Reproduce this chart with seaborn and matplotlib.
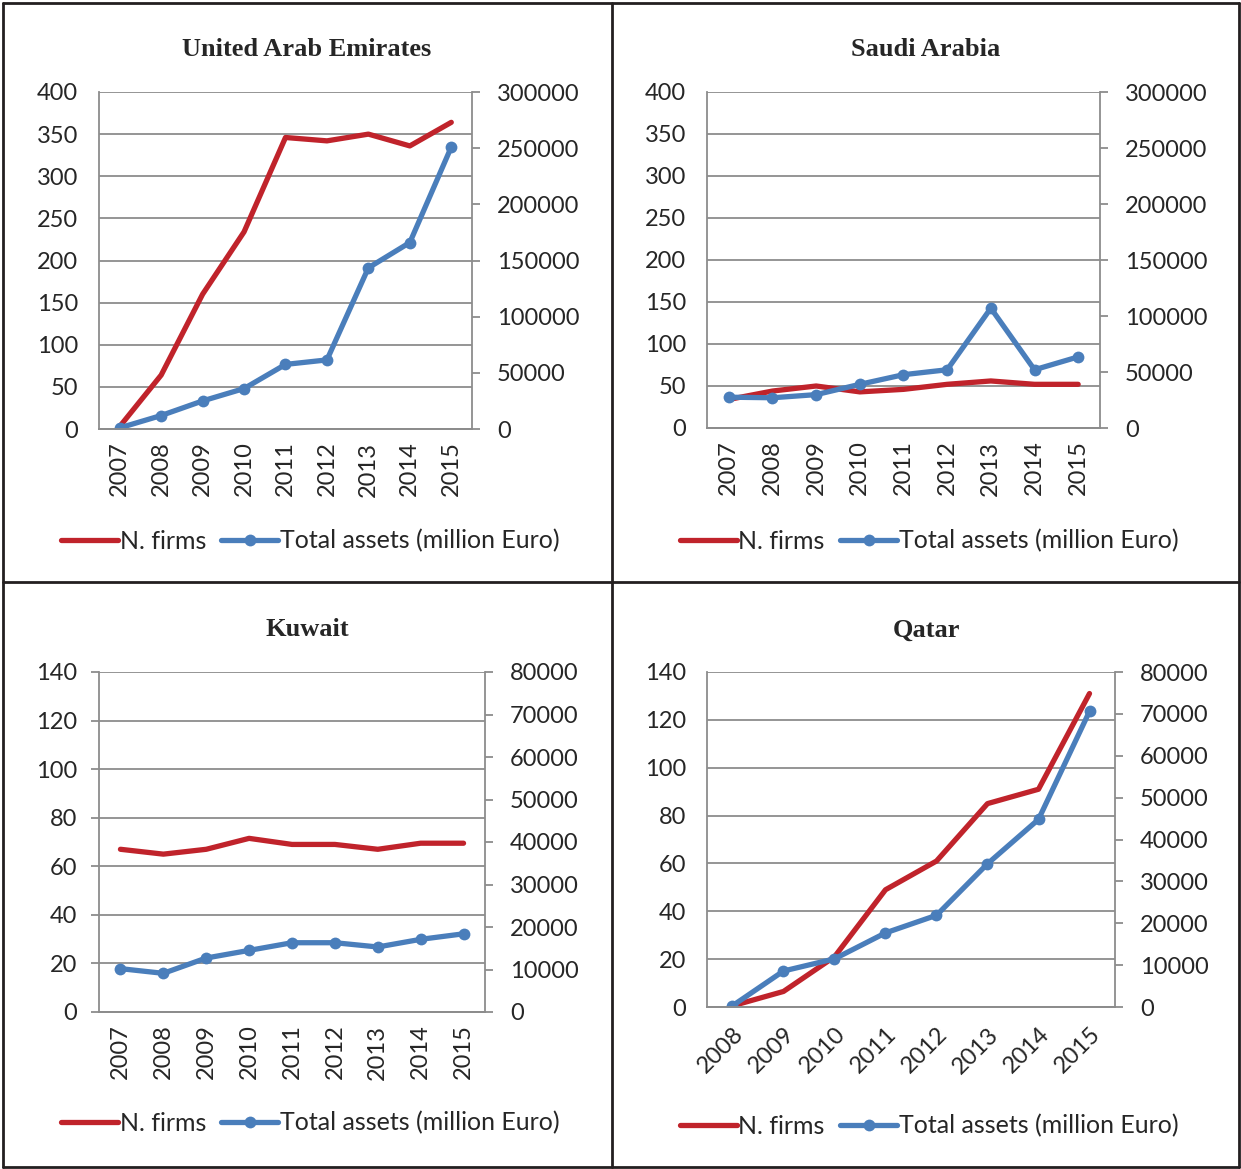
import numpy as np
import pandas as pd
import matplotlib.pyplot as plt
from matplotlib.lines import Line2D
import seaborn as sns

sns.set_style('white')
plt.rcParams['font.family'] = ['Lato', 'DejaVu Sans']

RED = '#C0232B'
BLUE = '#4A7EBB'
GRID = '#8C8C8C'
TXT = '#262626'

# data
years_a = ['2007', '2008', '2009', '2010', '2011', '2012', '2013', '2014', '2015']
years_q = ['2008', '2009', '2010', '2011', '2012', '2013', '2014', '2015']

uae_firms = [3, 64, 160, 234, 346, 342, 350, 336, 364]
uae_assets = [1000, 12000, 25000, 36000, 57500, 61500, 143500, 166000, 251000]

sau_firms = [34, 44, 50, 43, 46, 52, 56, 52, 52]
sau_assets = [27500, 27000, 29800, 39000, 47600, 52000, 107000, 52000, 63500]

kuw_firms = [67, 65, 67, 71.5, 69, 69, 67, 69.5, 69.5]
kuw_assets = [10200, 9100, 12700, 14500, 16300, 16300, 15300, 17100, 18400]

qat_firms = [0.5, 6.5, 21, 49, 61, 85, 91, 131]
qat_assets = [300, 8600, 11500, 17700, 21900, 34200, 44800, 70600]

W, H = 1241, 1169
fig = plt.figure(figsize=(W / 100, H / 100), dpi=100)


def box(l, t, r, b):
    return [l / W, 1 - b / H, (r - l) / W, (b - t) / H]


panels = [
    dict(title='United Arab Emirates', years=years_a, firms=uae_firms, assets=uae_assets,
         rect=(99, 92, 472, 429), lmax=400, lstep=50, rmax=300000, rstep=50000,
         tx=307, ty=50, lg=(310, 541), rot=90, xticks=False),
    dict(title='Saudi Arabia', years=years_a, firms=sau_firms, assets=sau_assets,
         rect=(707, 92, 1100, 428), lmax=400, lstep=50, rmax=300000, rstep=50000,
         tx=926, ty=50, lg=(929, 541), rot=90, xticks=False),
    dict(title='Kuwait', years=years_a, firms=kuw_firms, assets=kuw_assets,
         rect=(99, 672, 485, 1012), lmax=140, lstep=20, rmax=80000, rstep=10000,
         tx=307, ty=630, lg=(310, 1123), rot=90, xticks=True),
    dict(title='Qatar', years=years_q, firms=qat_firms, assets=qat_assets,
         rect=(707, 672, 1115, 1007), lmax=140, lstep=20, rmax=80000, rstep=10000,
         tx=926, ty=630, lg=(929, 1126), rot=45, xticks=False),
]

for p in panels:
    n = len(p['years'])
    df = pd.DataFrame({'pos': np.arange(n), 'year': p['years'],
                       'firms': p['firms'], 'assets': p['assets']})

    ax = fig.add_axes(box(*p['rect']))
    ax2 = ax.twinx()

    sns.lineplot(data=df, x='pos', y='firms', ax=ax, color=RED, lw=3.8,
                 solid_capstyle='round', label='N. firms', legend=False)
    sns.lineplot(data=df, x='pos', y='assets', ax=ax2, color=BLUE, lw=3.8,
                 marker='o', markersize=8.5, markeredgewidth=0,
                 label='Total assets (million Euro)', legend=False)

    ax.set_xlim(-0.5, n - 0.5)
    ax.set_ylim(0, p['lmax'])
    ax2.set_ylim(0, p['rmax'])
    ax.set_yticks(np.arange(0, p['lmax'] + 1, p['lstep']))
    ax2.set_yticks(np.arange(0, p['rmax'] + 1, p['rstep']))
    ax.set_xticks(np.arange(n))
    if p['rot'] == 90:
        ax.set_xticklabels(p['years'], rotation=90)
    else:
        ax.set_xticklabels(p['years'], rotation=45, ha='right', rotation_mode='anchor')

    ax.grid(axis='y', color=GRID, lw=1.3)
    ax.grid(axis='x', visible=False)
    for a in (ax, ax2):
        a.set_xlabel('')
        a.set_ylabel('')
        a.spines['top'].set_visible(False)
        for s in ('left', 'right', 'bottom'):
            a.spines[s].set_color(GRID)
            a.spines[s].set_linewidth(1.3)
    ax.spines['right'].set_visible(False)
    ax2.spines['left'].set_visible(False)

    ax.tick_params(axis='y', length=6 if p['xticks'] else 0, width=1.3, color=GRID,
                   pad=10 if p['xticks'] else 15, labelsize=17, labelcolor=TXT)
    ax.tick_params(axis='x', length=0, pad=9 if p['rot'] == 90 else 12,
                   labelsize=17, labelcolor=TXT)
    ax2.tick_params(axis='y', length=6, width=1.3, color=GRID, pad=12,
                    labelsize=17, labelcolor=TXT)
    if p['xticks']:
        ax.set_xticks(np.arange(n + 1) - 0.5, minor=True)
        ax.tick_params(axis='x', which='minor', length=9, width=1.3, color=GRID)

    fig.text(p['tx'] / W, 1 - p['ty'] / H, p['title'], ha='center', va='center',
             family='Liberation Serif', fontweight='bold', fontsize=19, color=TXT)

    handles = [Line2D([], [], color=RED, lw=3.8),
               Line2D([], [], color=BLUE, lw=3.8, marker='o', markersize=8.5,
                      markeredgewidth=0)]
    fig.legend(handles, ['N. firms', 'Total assets (million Euro)'], loc='center',
               bbox_to_anchor=(p['lg'][0] / W, 1 - p['lg'][1] / H), ncol=2,
               frameon=False, fontsize=18, handlelength=2.3, handletextpad=0.05,
               columnspacing=0.6, labelcolor=TXT)

# table borders
lines = [((3, 1239), (3, 3)), ((3, 1239), (1167, 1167)), ((3, 3), (3, 1167)),
         ((1239, 1239), (3, 1167)), ((612, 612), (3, 1167)), ((3, 1239), (582, 582))]
for xs, ys in lines:
    fig.add_artist(Line2D([x / W for x in xs], [1 - y / H for y in ys],
                          color='#231F20', lw=2))

fig.savefig('out.png', dpi=100, facecolor='white')
